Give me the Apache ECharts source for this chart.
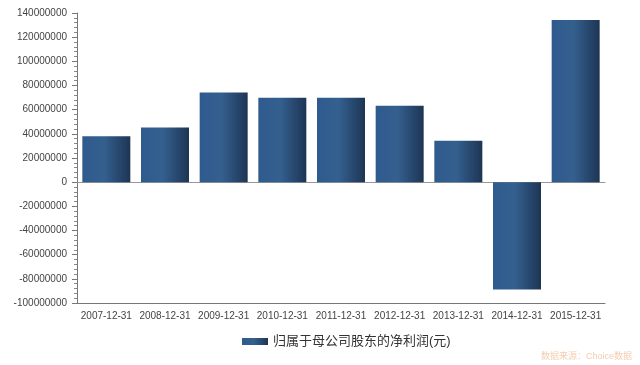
<!DOCTYPE html>
<html><head><meta charset="utf-8">
<script src="https://cdn.jsdelivr.net/npm/echarts@6/dist/echarts.min.js"></script>
<style>html,body{margin:0;padding:0;background:#fff}#c{width:640px;height:365px}</style>
</head><body><div id="c"></div>
<script>
const categories = ['2007-12-31','2008-12-31','2009-12-31','2010-12-31','2011-12-31','2012-12-31','2013-12-31','2014-12-31','2015-12-31'];
const netProfit = [38000000, 45300000, 74300000, 69800000, 69800000, 63200000, 34300000, -88900000, 134300000];
const seriesName = '归属于母公司股东的净利润(元)';
const yMin = -100000000, yMax = 140000000, yInterval = 20000000;

const chart = echarts.init(document.getElementById('c'));
const font = 'Arial, "Liberation Sans", "Noto Sans CJK SC", sans-serif';
chart.setOption({
  animation: false,
  backgroundColor: '#fff',
  grid: {left: 77, right: 35, top: 13, bottom: 62, containLabel: false},
  legend: {
    left: 237, top: 330, itemWidth: 26, itemHeight: 7, itemGap: 5,
    icon: 'rect',
    textStyle: {fontSize: 13, color: '#333', fontFamily: font},
    data: [seriesName]
  },
  xAxis: [{
    type: 'category', data: categories,
    axisLine: {onZero: false, lineStyle: {color: '#777', width: 1}},
    axisTick: {alignWithLabel: true, length: 4, lineStyle: {color: '#777'}},
    axisLabel: {fontSize: 10, color: '#444', margin: 8, fontFamily: font, interval: 0},
    splitLine: {show: false}
  }, {
    type: 'category', data: categories, position: 'bottom',
    axisLine: {onZero: true, lineStyle: {color: '#999', width: 1}},
    axisTick: {show: false}, axisLabel: {show: false}, splitLine: {show: false}
  }],
  yAxis: {
    type: 'value', min: yMin, max: yMax, interval: yInterval,
    axisLine: {show: true, lineStyle: {color: '#777'}},
    axisTick: {show: true, length: 5, lineStyle: {color: '#777'}},
    minorTick: {show: true, splitNumber: 5, length: 3, lineStyle: {color: '#888'}},
    axisLabel: {fontSize: 10, color: '#444', margin: 10, fontFamily: font, formatter: v => String(v)},
    splitLine: {show: false}
  },
  series: [{
    name: seriesName, type: 'bar', data: netProfit, barWidth: 48,
    itemStyle: {
      color: new echarts.graphic.LinearGradient(0, 0, 1, 0, [
        {offset: 0, color: '#2f5a8e'},
        {offset: 0.45, color: '#34608f'},
        {offset: 1, color: '#1e3554'}
      ])
    }
  }],
  graphic: [{
    type: 'text', left: 541, top: 352,
    style: {text: '数据来源：Choice数据', fontSize: 9, fill: '#f4cdb0', fontFamily: font}
  }]
});
</script></body></html>
